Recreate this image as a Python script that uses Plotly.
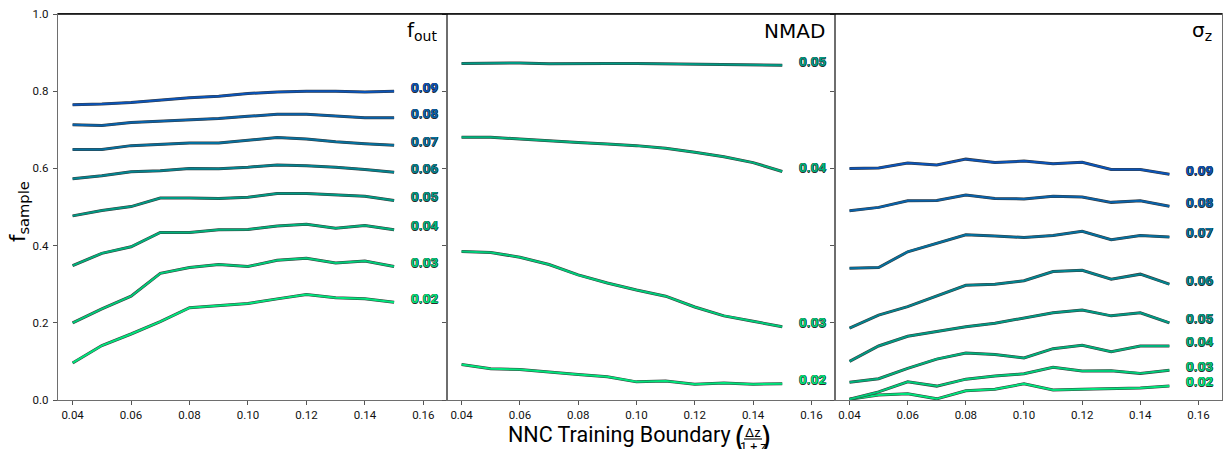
import plotly.graph_objects as go

x_vals = [0.04, 0.05, 0.06, 0.07, 0.08, 0.09, 0.10, 0.11, 0.12, 0.13, 0.14, 0.15]

# panel 1: f_out thresholds
fout_labels = ["0.02", "0.03", "0.04", "0.05", "0.06", "0.07", "0.08", "0.09"]
fout_02 = [0.096, 0.141, 0.171, 0.203, 0.239, 0.245, 0.250, 0.262, 0.273, 0.265, 0.262, 0.253]
fout_03 = [0.200, 0.236, 0.269, 0.328, 0.343, 0.351, 0.346, 0.362, 0.367, 0.355, 0.360, 0.346]
fout_04 = [0.348, 0.380, 0.397, 0.434, 0.434, 0.441, 0.442, 0.451, 0.455, 0.445, 0.452, 0.441]
fout_05 = [0.477, 0.491, 0.501, 0.523, 0.523, 0.522, 0.525, 0.535, 0.535, 0.531, 0.528, 0.517]
fout_06 = [0.573, 0.581, 0.591, 0.594, 0.600, 0.599, 0.603, 0.609, 0.607, 0.603, 0.597, 0.590]
fout_07 = [0.649, 0.649, 0.659, 0.662, 0.666, 0.666, 0.673, 0.680, 0.676, 0.669, 0.664, 0.660]
fout_08 = [0.713, 0.711, 0.719, 0.722, 0.725, 0.729, 0.735, 0.740, 0.740, 0.735, 0.731, 0.731]
fout_09 = [0.765, 0.767, 0.771, 0.777, 0.783, 0.787, 0.794, 0.798, 0.800, 0.800, 0.798, 0.800]

# panel 2: NMAD thresholds
nmad_labels = ["0.02", "0.03", "0.04", "0.05"]
nmad_02 = [0.092, 0.081, 0.079, 0.072, 0.066, 0.060, 0.047, 0.049, 0.041, 0.044, 0.041, 0.042]
nmad_03 = [0.385, 0.382, 0.370, 0.351, 0.324, 0.303, 0.285, 0.269, 0.241, 0.218, 0.204, 0.190]
nmad_04 = [0.681, 0.681, 0.676, 0.671, 0.667, 0.663, 0.659, 0.652, 0.642, 0.630, 0.615, 0.592]
nmad_05 = [0.872, 0.873, 0.873, 0.871, 0.872, 0.872, 0.872, 0.871, 0.871, 0.870, 0.869, 0.867]

# panel 3: sigma_z thresholds
sig_labels = ["0.02", "0.03", "0.04", "0.05", "0.06", "0.07", "0.08", "0.09"]
sig_02 = [0.002, 0.013, 0.016, 0.003, 0.024, 0.028, 0.042, 0.026, 0.028, 0.029, 0.031, 0.036]
sig_03 = [0.002, 0.021, 0.047, 0.036, 0.054, 0.062, 0.068, 0.085, 0.075, 0.076, 0.069, 0.077]
sig_04 = [0.046, 0.055, 0.082, 0.106, 0.122, 0.118, 0.109, 0.133, 0.142, 0.125, 0.140, 0.140]
sig_05 = [0.100, 0.140, 0.165, 0.178, 0.190, 0.199, 0.212, 0.226, 0.233, 0.218, 0.226, 0.200]
sig_06 = [0.186, 0.220, 0.242, 0.270, 0.297, 0.300, 0.309, 0.333, 0.336, 0.313, 0.326, 0.300]
sig_07 = [0.341, 0.343, 0.384, 0.406, 0.428, 0.425, 0.421, 0.426, 0.437, 0.415, 0.426, 0.422]
sig_08 = [0.490, 0.499, 0.516, 0.517, 0.531, 0.522, 0.521, 0.528, 0.526, 0.512, 0.516, 0.502]
sig_09 = [0.600, 0.601, 0.614, 0.609, 0.624, 0.615, 0.619, 0.612, 0.616, 0.597, 0.597, 0.585]

color_map = {
    "0.02": "#00e47c", "0.03": "#00cc7a", "0.04": "#00b27c", "0.05": "#009a84",
    "0.06": "#028490", "0.07": "#05709e", "0.08": "#0862aa", "0.09": "#0a54b8",
}

panels = [
    (fout_labels, [fout_02, fout_03, fout_04, fout_05, fout_06, fout_07, fout_08, fout_09], "f<sub>out</sub>"),
    (nmad_labels, [nmad_02, nmad_03, nmad_04, nmad_05], "NMAD"),
    (sig_labels, [sig_02, sig_03, sig_04, sig_05, sig_06, sig_07, sig_08, sig_09], "σ<sub>z</sub>"),
]

W, H = 1225, 449
L, R, T, B = 58, 3, 14, 49
pw = W - L - R
ph = H - T - B
def px_x(p):
    return (p - L) / pw
def px_y(p):
    return (H - B - p) / ph

bounds = [58, 447, 835, 1222]
domains = [[px_x(bounds[i]), px_x(bounds[i + 1])] for i in range(3)]

fig = go.Figure()
annotations = []
sc = "#2a2a2a"
shadow = f"0.5px 0 0 {sc}, -0.5px 0 0 {sc}, 0 0.5px 0 {sc}, 0 -0.5px 0 {sc}"

for i, (labs, series, title) in enumerate(panels):
    xa = "x" if i == 0 else f"x{i+1}"
    ya = "y" if i == 0 else f"y{i+1}"
    for lab, ys in zip(labs, series):
        col = color_map[lab]
        fig.add_trace(go.Scatter(x=x_vals, y=ys, mode="lines", xaxis=xa, yaxis=ya,
                                 line=dict(color="#3a3a3a", width=3.0), showlegend=False,
                                 hoverinfo="skip"))
        fig.add_trace(go.Scatter(x=x_vals, y=ys, mode="lines", xaxis=xa, yaxis=ya,
                                 line=dict(color=col, width=2.0), showlegend=False,
                                 name=lab))
        annotations.append(dict(x=0.155, y=ys[-1] + 0.012, xref=xa, yref=ya, text=f"<b>{lab}</b>",
                                showarrow=False, xanchor="left", yanchor="middle",
                                font=dict(family="Roboto", size=13.5, color=col, shadow=shadow)))
    annotations.append(dict(x=px_x(bounds[i + 1] - 8), y=px_y(31), xref="paper", yref="paper",
                            text=title, showarrow=False, xanchor="right", yanchor="middle",
                            font=dict(family="DejaVu Sans", size=20, color="black")))

axis_common = dict(showgrid=False, zeroline=False, showline=True, linecolor="#6e6e6e", linewidth=1.3,
                   mirror=True, ticks="outside", ticklen=4, tickwidth=1, tickcolor="#555",
                   tickfont=dict(family="Roboto", size=11.5, color="#111"))
for i in range(3):
    sx = "" if i == 0 else str(i + 1)
    fig.update_layout(**{
        f"xaxis{sx}": dict(domain=domains[i], range=[0.035, 0.1681], tickvals=[0.04, 0.06, 0.08, 0.10, 0.12, 0.14, 0.16],
                           ticktext=["0.04", "0.06", "0.08", "0.10", "0.12", "0.14", "0.16"],
                           anchor="y" + sx, **axis_common),
        f"yaxis{sx}": dict(domain=[0, 1], range=[0, 1], tickvals=[0, 0.2, 0.4, 0.6, 0.8, 1.0],
                           ticktext=["0.0", "0.2", "0.4", "0.6", "0.8", "1.0"],
                           showticklabels=(i == 0), anchor="x" + sx, ticklabelstandoff=2, **axis_common),
    })

# top border in black
shapes = [dict(type="line", xref="paper", yref="paper", x0=0, x1=1, y0=1, y1=1,
               line=dict(color="black", width=1.3))]

# y axis title
annotations.append(dict(x=px_x(19), y=px_y(212), xref="paper", yref="paper", text="f<sub>sample</sub>",
                        textangle=-90, showarrow=False, xanchor="center", yanchor="middle",
                        font=dict(family="DejaVu Sans", size=21, color="black")))
# x axis title composed
annotations.append(dict(x=px_x(733), y=px_y(434), xref="paper", yref="paper", text="NNC Training Boundary",
                        showarrow=False, xanchor="right", yanchor="middle",
                        font=dict(family="Roboto", size=21.5, color="black")))
annotations.append(dict(x=px_x(740), y=px_y(438), xref="paper", yref="paper", text="(",
                        showarrow=False, xanchor="center", yanchor="middle",
                        font=dict(family="DejaVu Sans", size=30, color="black")))
annotations.append(dict(x=px_x(766), y=px_y(438), xref="paper", yref="paper", text=")",
                        showarrow=False, xanchor="center", yanchor="middle",
                        font=dict(family="DejaVu Sans", size=30, color="black")))
annotations.append(dict(x=px_x(753), y=px_y(432), xref="paper", yref="paper", text="Δz",
                        showarrow=False, xanchor="center", yanchor="middle",
                        font=dict(family="Roboto", size=13, color="black")))
annotations.append(dict(x=px_x(753), y=px_y(446), xref="paper", yref="paper", text="1 + z",
                        showarrow=False, xanchor="center", yanchor="middle",
                        font=dict(family="Roboto", size=12.5, color="black")))
shapes.append(dict(type="line", xref="paper", yref="paper", x0=px_x(744), x1=px_x(762),
                   y0=px_y(439), y1=px_y(439), line=dict(color="black", width=1.1)))

fig.update_layout(width=W, height=H, margin=dict(l=L, r=R, t=T, b=B), plot_bgcolor="white",
                  paper_bgcolor="white", annotations=annotations, shapes=shapes, showlegend=False)

fig.write_html("out.html")
